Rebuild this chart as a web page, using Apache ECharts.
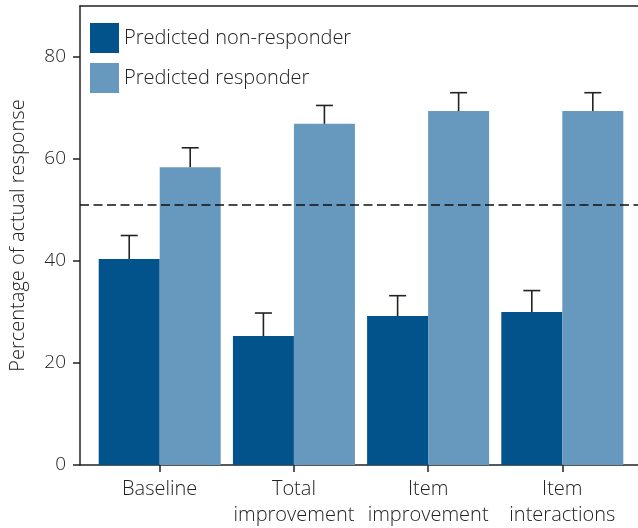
<!DOCTYPE html>
<html>
<head>
<meta charset="utf-8">
<script src="https://cdn.jsdelivr.net/npm/echarts@6/dist/echarts.min.js"></script>
<style>html,body{margin:0;padding:0;background:#fff}#c{width:638px;height:528px}</style>
</head>
<body>
<div id="c"></div>
<script>
var categories = ['Baseline', 'Total\nimprovement', 'Item\nimprovement', 'Item\ninteractions'];
var nonResponder = [40.4, 25.3, 29.2, 30.0];
var nonResponderErr = [45.0, 29.8, 33.2, 34.2];
var responder = [58.4, 66.9, 69.4, 69.4];
var responderErr = [62.2, 70.5, 73.0, 73.0];
var chanceLevel = 51.0;
var yTicks = [0, 20, 40, 60, 80];

var DARK = '#02528c', LIGHT = '#6798be', INK = '#222';
var BAR_W = 61, CAP = 17;
var FONT = "'Open Sans', sans-serif";
var FW = 300;

function pairs(arr) { return arr.map(function (v, i) { return [i, v]; }); }
function errData(vals, errs) { return vals.map(function (v, i) { return [i, v, errs[i]]; }); }
function errSeries(name, vals, errs, side) {
  return {
    type: 'custom', name: name + ' err', z: 5,
    data: errData(vals, errs),
    renderItem: function (params, api) {
      var p0 = api.coord([api.value(0), api.value(1)]);
      var p1 = api.coord([api.value(0), api.value(2)]);
      var x = p0[0] + side * BAR_W / 2;
      return {
        type: 'group', children: [
          { type: 'line', shape: { x1: x, y1: p0[1], x2: x, y2: p1[1] }, style: { stroke: INK, lineWidth: 1.6 } },
          { type: 'line', shape: { x1: x - CAP / 2, y1: p1[1], x2: x + CAP / 2, y2: p1[1] }, style: { stroke: INK, lineWidth: 1.6 } }
        ]
      };
    }
  };
}

var chart = echarts.init(document.getElementById('c'));
chart.setOption({
  animation: false,
  textStyle: { fontFamily: FONT, fontWeight: FW },
  grid: { left: 78, right: 0, top: 6, bottom: 63 },
  legend: {
    orient: 'vertical', left: 90, top: 23, padding: 0, itemWidth: 29, itemHeight: 30, itemGap: 10,
    icon: 'rect',
    textStyle: { fontFamily: FONT, fontWeight: FW, fontSize: 20, color: INK },
    data: ['Predicted non-responder', 'Predicted responder']
  },
  xAxis: [{
    type: 'value', min: -0.594, max: 3.564,
    splitLine: { show: false },
    axisLine: { show: true, onZero: false, lineStyle: { color: INK, width: 1.5 } },
    axisTick: { show: true, customValues: [0, 1, 2, 3], length: 7, lineStyle: { color: INK, width: 1.5 } },
    axisLabel: {
      customValues: [0, 1, 2, 3], margin: 11,
      fontFamily: FONT, fontWeight: FW, fontSize: 20, color: INK, lineHeight: 26,
      formatter: function (v) { return categories[Math.round(v)]; }
    }
  }, {
    type: 'value', position: 'top', min: -0.594, max: 3.564,
    splitLine: { show: false },
    axisLine: { show: true, onZero: false, lineStyle: { color: INK, width: 1.5 } },
    axisTick: { show: false }, axisLabel: { show: false }
  }],
  yAxis: {
    type: 'value', min: 0, max: 90,
    name: 'Percentage of actual response', nameLocation: 'middle', nameGap: 52,
    nameTextStyle: { fontFamily: FONT, fontWeight: FW, fontSize: 20, color: INK },
    splitLine: { show: false },
    axisLine: { show: true, onZero: false, lineStyle: { color: INK, width: 1.5 } },
    axisTick: { show: true, customValues: yTicks, length: 7, lineStyle: { color: INK, width: 1.5 } },
    axisLabel: { customValues: yTicks, margin: 14, fontFamily: FONT, fontWeight: FW, fontSize: 19, color: INK }
  },
  series: [{
    type: 'bar', name: 'Predicted non-responder', data: pairs(nonResponder),
    barWidth: BAR_W, barGap: '0%', itemStyle: { color: DARK },
    markLine: {
      silent: true, symbol: 'none', label: { show: false },
      lineStyle: { color: '#111', type: [9, 4.5], width: 1.5 },
      data: [{ yAxis: chanceLevel }]
    }
  }, {
    type: 'bar', name: 'Predicted responder', data: pairs(responder),
    barWidth: BAR_W, barGap: '0%', itemStyle: { color: LIGHT }
  },
  errSeries('Predicted non-responder', nonResponder, nonResponderErr, -1),
  errSeries('Predicted responder', responder, responderErr, 1)
  ]
});
</script>
</body>
</html>
